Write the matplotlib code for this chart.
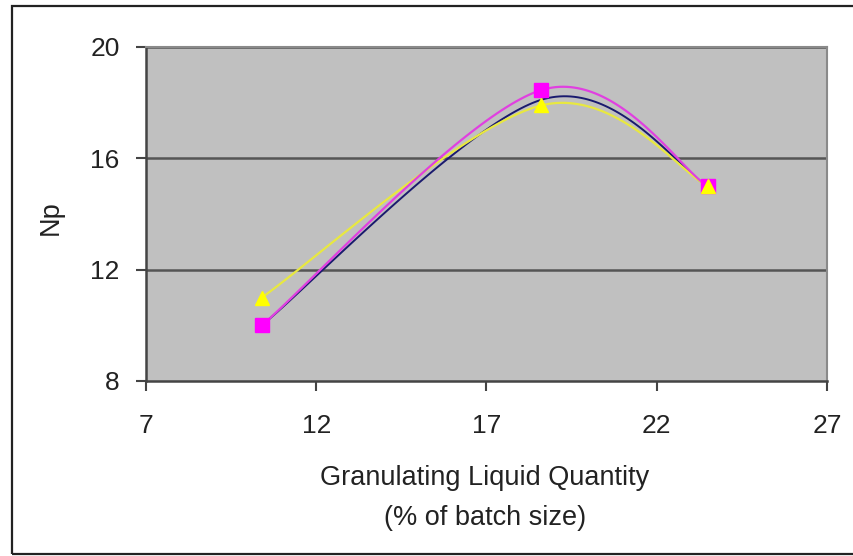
import numpy as np
import matplotlib
matplotlib.use("Agg")
import matplotlib.pyplot as plt
from matplotlib.patches import Rectangle

plt.rcParams['font.family'] = ['Liberation Sans', 'DejaVu Sans']

x_vals = [10.4, 18.6, 23.5]
series_blue = [10.0, 18.1, 15.0]
series_magenta = [10.0, 18.45, 15.0]
series_yellow = [11.0, 17.9, 15.0]
x_ticks = [7, 12, 17, 22, 27]
y_ticks = [8, 12, 16, 20]


def smooth(xs, ys, n=60):
    P = np.column_stack([xs, ys]).astype(float)
    P = np.vstack([P[0], P, P[-1]])
    out = []
    for i in range(1, len(P) - 2):
        p0, p1, p2, p3 = P[i - 1], P[i], P[i + 1], P[i + 2]
        c1 = p1 + (p2 - p0) / 6.0
        c2 = p2 - (p3 - p1) / 6.0
        t = np.linspace(0, 1, n)[:, None]
        b = ((1 - t) ** 3) * p1 + 3 * ((1 - t) ** 2) * t * c1 + 3 * (1 - t) * t ** 2 * c2 + t ** 3 * p2
        out.append(b if i == 1 else b[1:])
    b = np.vstack(out)
    return b[:, 0], b[:, 1]


W, H = 854, 556
fig = plt.figure(figsize=(W / 100, H / 100), dpi=100)
fig.patches.append(Rectangle((12.5 / W, 2 / H), 2, 548 / H, transform=fig.transFigure,
                             fill=False, edgecolor='#222222', linewidth=1.6))
ax = fig.add_axes([146 / W, 1 - 381 / H, (827 - 146) / W, (381 - 47) / H])
ax.set_facecolor('#C0C0C0')
ax.set_xlim(7, 27)
ax.set_ylim(8, 20)
ax.set_xticks(x_ticks)
ax.set_yticks(y_ticks)
for yv in y_ticks[1:]:
    ax.axhline(yv, color='#555555', linewidth=1.8, zorder=1)

for sp in ['top', 'right']:
    ax.spines[sp].set_color('#8a8a8a')
    ax.spines[sp].set_linewidth(1.5)
for sp in ['left', 'bottom']:
    ax.spines[sp].set_color('#444444')
    ax.spines[sp].set_linewidth(1.8)

ax.tick_params(axis='both', direction='out', length=7, width=1.5, color='#444444',
               labelsize=19, labelcolor='#222222')
ax.tick_params(axis='x', pad=17)
ax.tick_params(axis='y', pad=12)

xs, ys = smooth(x_vals, series_blue)
ax.plot(xs, ys, color='#1a1a6e', linewidth=1.4, zorder=3)
xs, ys = smooth(x_vals, series_yellow)
ax.plot(xs, ys, color='#e8e840', linewidth=1.6, zorder=4)
xs, ys = smooth(x_vals, series_magenta)
ax.plot(xs, ys, color='#e040e0', linewidth=1.6, zorder=5)

ax.plot(x_vals, series_magenta, linestyle='none', marker='s', markersize=10,
        color='#ff00ff', zorder=6)
ax.plot(x_vals, series_yellow, linestyle='none', marker='^', markersize=10,
        color='#ffff00', zorder=7)

fig.text(485 / W, 1 - 478 / H, 'Granulating Liquid Quantity', fontsize=19.5,
         color='#222222', ha='center', va='center')
fig.text(485 / W, 1 - 518 / H, '(% of batch size)', fontsize=19.5,
         color='#222222', ha='center', va='center')
fig.text(51 / W, 1 - 218 / H, 'Np', fontsize=19.5, color='#222222',
         ha='center', va='center', rotation=90)

fig.savefig('out.png', dpi=100)
